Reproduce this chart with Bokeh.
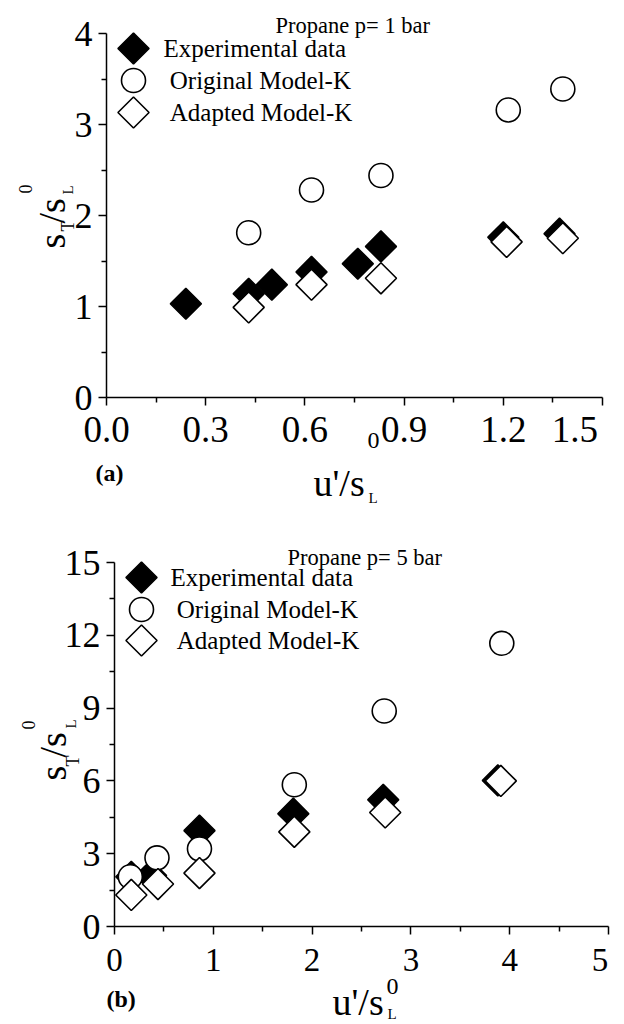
import math
from bokeh.plotting import figure
from bokeh.layouts import column
from bokeh.models import Range1d, FixedTicker, Label
from bokeh.embed import file_html
from bokeh.resources import INLINE

# ---------------- data (panel a: propane, p = 1 bar) ----------------
a_exp_x = [0.24, 0.43, 0.50, 0.62, 0.76, 0.83, 1.20, 1.37]
a_exp_y = [1.03, 1.14, 1.24, 1.38, 1.47, 1.66, 1.76, 1.80]
a_orig_x = [0.43, 0.62, 0.83, 1.215, 1.38]
a_orig_y = [1.81, 2.28, 2.44, 3.16, 3.39]
a_adap_x = [0.43, 0.62, 0.83, 1.21, 1.38]
a_adap_y = [0.99, 1.24, 1.31, 1.71, 1.75]
a_xticks = [0.0, 0.3, 0.6, 0.9, 1.2, 1.5]
a_yticks = [0, 1, 2, 3, 4]

# ---------------- data (panel b: propane, p = 5 bar) ----------------
b_exp_x = [0.17, 0.37, 0.86, 1.81, 2.72, 3.88]
b_exp_y = [2.05, 2.10, 3.95, 4.65, 5.22, 6.02]
b_orig_x = [0.16, 0.43, 0.86, 1.82, 2.73, 3.92]
b_orig_y = [2.05, 2.83, 3.20, 5.84, 8.88, 11.67]
b_adap_x = [0.17, 0.44, 0.86, 1.82, 2.74, 3.91]
b_adap_y = [1.30, 1.75, 2.20, 3.90, 4.70, 6.00]
b_xticks = [0, 1, 2, 3, 4, 5]
b_yticks = [0, 3, 6, 9, 12, 15]

legend_labels = ["Experimental data", "\u00a0Original Model-K", "\u00a0Adapted Model-K"]
titles = ["Propane p= 1 bar", "Propane p= 5 bar"]

FONT = "Liberation Serif"
W = 616
PAGE_X0 = 0


def minors(ticks):
    return [(a + b) / 2 for a, b in zip(ticks[:-1], ticks[1:])]


class Panel:
    """A figure whose frame is the whole canvas; axes pinned at 0 with bounds."""

    def __init__(self, page_top, height, frame, xlim, ylim, xticks, yticks,
                 xlabels, xtick_size, ytick_size, xstandoff):
        # frame = (left, top, right, bottom) of the axes box, in page pixels
        self.top = page_top
        self.height = height
        fl, ft, fr, fb = frame
        self.fl, self.fb = fl, fb
        self.kx = (fr - fl) / (xlim[1] - xlim[0])
        self.ky = (fb - ft) / (ylim[1] - ylim[0])
        xr = Range1d(self.dx(PAGE_X0), self.dx(PAGE_X0 + W))
        yr = Range1d(self.dy(page_top + height), self.dy(page_top))
        p = figure(width=W, height=height, x_range=xr, y_range=yr,
                   output_backend="svg", toolbar_location=None, title=None,
                   min_border=0)
        p.outline_line_color = None
        p.xgrid.visible = False
        p.ygrid.visible = False
        p.background_fill_color = "white"
        p.border_fill_color = "white"
        for ax, ticks, fs, lim in ((p.xaxis[0], xticks, xtick_size, xlim),
                                   (p.yaxis[0], yticks, ytick_size, ylim)):
            ax.fixed_location = 0
            ax.bounds = lim
            ax.ticker = FixedTicker(ticks=ticks, minor_ticks=minors(ticks))
            ax.axis_line_width = 1.5
            ax.axis_line_color = "black"
            ax.major_tick_line_width = 1.5
            ax.minor_tick_line_width = 1.5
            ax.major_tick_line_color = "black"
            ax.minor_tick_line_color = "black"
            ax.major_tick_in = 0
            ax.minor_tick_in = 0
            ax.major_tick_out = 8
            ax.minor_tick_out = 5
            ax.major_label_text_font = FONT
            ax.major_label_text_font_size = f"{fs}px"
            ax.major_label_text_color = "black"
        p.xaxis[0].major_label_overrides = dict(zip(xticks, xlabels))
        p.xaxis[0].major_label_standoff = xstandoff
        p.yaxis[0].major_label_standoff = 6
        self.p = p

    def dx(self, px):
        return (px - self.fl) / self.kx

    def dy(self, py):
        return (self.fb - py) / self.ky

    def label(self, text, px, py, size, angle=0.0, bold=False, baseline="alphabetic"):
        self.p.add_layout(Label(x=self.dx(px), y=self.dy(py), x_units="data", y_units="data",
                                text=text, text_font=FONT, text_font_size=f"{size}px",
                                text_font_style="bold" if bold else "normal",
                                text_color="black", angle=angle,
                                text_align="left", text_baseline=baseline))

    def series(self, ex, ey, ox, oy, ax_, ay):
        p = self.p
        p.scatter(ex, ey, marker="square", size=22, angle=math.pi / 4,
                  fill_color="black", line_color="black", line_width=1.5)
        p.scatter(ox, oy, marker="circle", size=24,
                  fill_color="white", line_color="black", line_width=1.6)
        p.scatter(ax_, ay, marker="square", size=22, angle=math.pi / 4,
                  fill_color="white", line_color="black", line_width=1.6)

    def legend(self, mx, mys, tx):
        # legend swatches (layout positions in page pixels) and their labels
        p = self.p
        styles = [dict(marker="square", size=22, angle=math.pi / 4, fill_color="black"),
                  dict(marker="circle", size=24, angle=0.0, fill_color="white"),
                  dict(marker="square", size=22, angle=math.pi / 4, fill_color="white")]
        for st, my, text in zip(styles, mys, legend_labels):
            p.scatter([self.dx(mx)], [self.dy(my)], line_color="black", line_width=1.6, **st)
            self.label(text, tx, my, 25, baseline="middle")


R = math.pi / 2

# ---------------- panel (a) ----------------
H1 = 506
A = Panel(0, H1, (106, 33, 602, 397), (0, 1.5), (0, 4), a_xticks, a_yticks,
          ["0.0", "0.3", "0.6", "0.9", "1.2", "1.5\u00a0\u00a0"], 37, 36, 3)
A.series(a_exp_x, a_exp_y, a_orig_x, a_orig_y, a_adap_x, a_adap_y)
A.legend(133, [48, 80, 112], 163)
A.label(titles[0], 275, 25, 22.5)
A.label("(a)", 95, 472, 24, bold=True)
A.label("u'/s", 313, 482, 38)
A.label("0", 367, 440, 24)
A.label("L", 368, 497, 15)
A.label("s", 51, 248, 38, angle=R)
A.label("T", 67, 231, 18, angle=R)
A.label("/s", 51, 223, 38, angle=R)
A.label("L", 67, 194, 15, angle=R)
A.label("0", 25, 193, 18, angle=R)

# ---------------- panel (b) ----------------
H2 = 516
B = Panel(H1, H2, (114, 562, 608, 926), (0, 5), (0, 15), b_xticks, b_yticks,
          ["0", "1", "2", "3", "4", "5\u00a0"], 33, 36, 7)
B.series(b_exp_x, b_exp_y, b_orig_x, b_orig_y, b_adap_x, b_adap_y)
B.legend(141, [577, 609, 640], 170)
B.label(titles[1], 287, 557, 22.5)
B.label("(b)", 106, 998, 24, bold=True)
B.label("u'/s", 332, 1001, 38)
B.label("0", 386, 986, 24)
B.label("L", 387, 1013, 15)
B.label("s", 52, 780, 38, angle=R)
B.label("T", 72, 766, 18, angle=R)
B.label("/s", 52, 757, 38, angle=R)
B.label("L", 70, 728, 15, angle=R)
B.label("0", 28, 729, 18, angle=R)

layout = column(A.p, B.p, spacing=0)
open("out.html", "w").write(file_html(layout, INLINE))
